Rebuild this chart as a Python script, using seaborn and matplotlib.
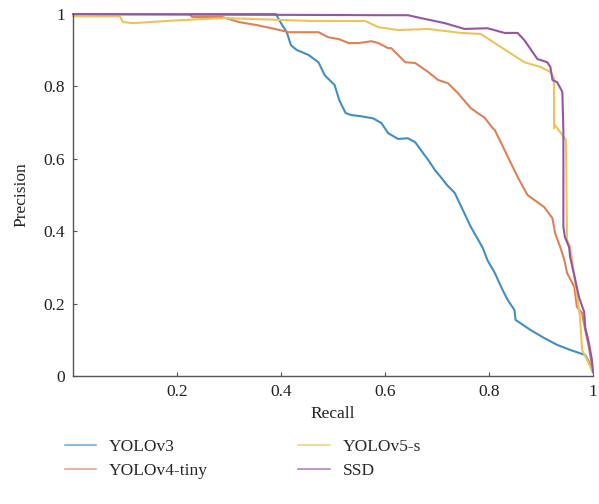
import numpy as np
import pandas as pd
import matplotlib
matplotlib.use("Agg")
import matplotlib.pyplot as plt
import seaborn as sns

# precision-recall curves
v3_recall = [0.0, 0.390, 0.402, 0.411, 0.419, 0.430, 0.453, 0.472, 0.484, 0.503, 0.512,
             0.524, 0.535, 0.553, 0.577, 0.593, 0.606, 0.625, 0.644, 0.658, 0.669,
             0.683, 0.696, 0.707, 0.719, 0.734, 0.765, 0.788, 0.797, 0.811, 0.826, 0.836,
             0.849, 0.851, 0.880, 0.906, 0.931, 0.956, 0.985, 0.992, 1.0]
v3_precision = [1.0, 1.0, 0.970, 0.950, 0.914, 0.901, 0.887, 0.867, 0.831, 0.804, 0.762,
                0.727, 0.721, 0.718, 0.712, 0.699, 0.671, 0.655, 0.657, 0.646, 0.624,
                0.597, 0.569, 0.550, 0.528, 0.506, 0.412, 0.354, 0.320, 0.285, 0.238, 0.210,
                0.182, 0.155, 0.127, 0.105, 0.086, 0.072, 0.058, 0.039, 0.01]

v4_recall = [0.0, 0.224, 0.229, 0.287, 0.319, 0.352, 0.382, 0.415, 0.472, 0.491, 0.511,
             0.530, 0.549, 0.574, 0.587, 0.606, 0.612, 0.639, 0.658, 0.683, 0.702, 0.721,
             0.740, 0.765, 0.792, 0.807, 0.811, 0.830, 0.855, 0.874, 0.906, 0.922, 0.927,
             0.937, 0.945, 0.950, 0.964, 0.969, 0.979, 0.985, 0.992, 1.0]
v4_precision = [1.0, 1.0, 0.992, 0.992, 0.978, 0.970, 0.961, 0.950, 0.950, 0.936, 0.931,
                0.920, 0.920, 0.925, 0.920, 0.906, 0.906, 0.867, 0.865, 0.840, 0.818, 0.809,
                0.782, 0.740, 0.713, 0.685, 0.680, 0.624, 0.550, 0.500, 0.467, 0.436, 0.395,
                0.356, 0.320, 0.285, 0.246, 0.191, 0.174, 0.127, 0.080, 0.01]

v5_recall = [0.0, 0.090, 0.096, 0.115, 0.180, 0.243, 0.294, 0.459, 0.562, 0.587, 0.625,
             0.683, 0.746, 0.784, 0.811, 0.841, 0.868, 0.899, 0.918, 0.925, 0.925, 0.927,
             0.941, 0.948, 0.950, 0.956, 0.966, 0.975, 0.979, 0.989, 1.0]
v5_precision = [0.994, 0.994, 0.978, 0.975, 0.981, 0.986, 0.989, 0.981, 0.981, 0.964, 0.956,
                0.959, 0.948, 0.945, 0.920, 0.892, 0.867, 0.854, 0.840, 0.823, 0.685, 0.693,
                0.666, 0.652, 0.376, 0.356, 0.257, 0.163, 0.072, 0.044, 0.01]

ssd_recall = [0.0, 0.593, 0.644, 0.669, 0.715, 0.753, 0.797, 0.830, 0.855, 0.868, 0.893,
              0.912, 0.918, 0.922, 0.931, 0.941, 0.943, 0.943, 0.946, 0.954, 0.956, 0.966,
              0.973, 0.983, 0.985, 0.992, 0.998, 1.0]
ssd_precision = [1.0, 0.997, 0.997, 0.989, 0.975, 0.959, 0.961, 0.948, 0.948, 0.928, 0.876,
                 0.867, 0.854, 0.818, 0.812, 0.785, 0.680, 0.412, 0.384, 0.356, 0.329, 0.265,
                 0.218, 0.177, 0.135, 0.091, 0.044, 0.01]

models = ["YOLOv3", "YOLOv4-tiny", "YOLOv5-s", "SSD"]
colors = ["#3f8fc6", "#dc8158", "#eec35c", "#9456a4"]

frames = []
for name, r, p in zip(models,
                      [v3_recall, v4_recall, v5_recall, ssd_recall],
                      [v3_precision, v4_precision, v5_precision, ssd_precision]):
    frames.append(pd.DataFrame({"Recall": r, "Precision": p, "model": name}))
df = pd.concat(frames, ignore_index=True)

sns.set_style("ticks")
plt.rcParams["font.family"] = ["Liberation Serif", "DejaVu Serif"]

fig = plt.figure(figsize=(5.99, 5.04), dpi=100)
ax = fig.add_axes([0.122, 0.254, 0.868, 0.718])

sns.lineplot(data=df, x="Recall", y="Precision", hue="model", hue_order=models,
             palette=colors, sort=False, estimator=None,
             linewidth=1.5, ax=ax, legend=False)
for ln in ax.lines:
    ln.set_clip_on(False)

ax.set_xlim(0, 1)
ax.set_ylim(0, 1)
ax.set_xticks([0.2, 0.4, 0.6, 0.8, 1.0])
ax.set_xticklabels(["0.2", "0.4", "0.6", "0.8", "1"])
ax.set_yticks([0, 0.2, 0.4, 0.6, 0.8, 1.0])
ax.set_yticklabels(["0", "0.2", "0.4", "0.6", "0.8", "1"])
ax.tick_params(direction="in", length=3, width=0.8, colors="#555555",
               labelcolor="#222222", labelsize=12.5, pad=6)
sns.despine(ax=ax)
for s in ["left", "bottom"]:
    ax.spines[s].set_color("#555555")
    ax.spines[s].set_linewidth(1.0)
ax.set_xlabel("Recall", fontsize=12.5, color="#222222", labelpad=4)
ax.set_ylabel("Precision", fontsize=12.5, color="#222222", labelpad=10)

handles = [plt.Line2D([], [], color=c, lw=1.5, alpha=0.6) for c in colors]
fig.legend(handles, models, loc="upper left", bbox_to_anchor=(0.082, 0.16), ncol=2,
           frameon=False, fontsize=12.5, handlelength=1.8, columnspacing=5.2,
           labelspacing=0.45, handletextpad=0.75)

fig.savefig("out.png", dpi=100)
